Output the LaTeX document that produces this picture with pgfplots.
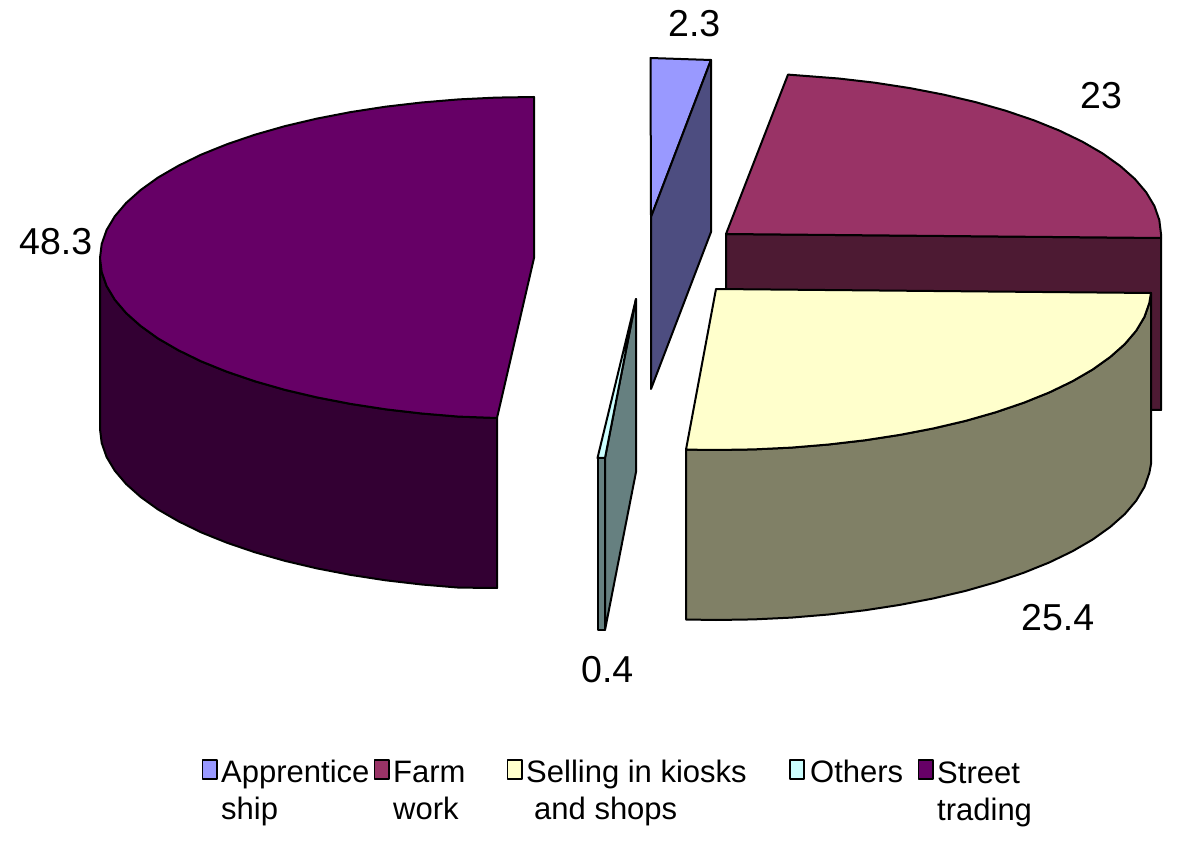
\documentclass[border=0pt]{standalone}
\usepackage{pgfplots}
\pgfplotsset{compat=1.18}
\usepackage{fontspec}
\setmainfont{Liberation Sans}
\definecolor{appT}{HTML}{9999FF}\definecolor{appS}{HTML}{4D4D80}
\definecolor{farmT}{HTML}{993366}\definecolor{farmS}{HTML}{4D1A33}
\definecolor{sellT}{HTML}{FFFFCC}\definecolor{sellS}{HTML}{808066}
\definecolor{othT}{HTML}{CCFFFF}\definecolor{othS}{HTML}{668080}
\definecolor{strT}{HTML}{660066}\definecolor{strS}{HTML}{330033}
\newcommand{\lab}[3]{\node[anchor=base west,inner sep=0pt] at (axis cs:#1,#2) {\fontsize{37.5}{40}\selectfont #3};}
\newcommand{\leg}[3]{\node[anchor=base west,inner sep=0pt] at (axis cs:#1,#2) {\fontsize{31}{34}\selectfont #3};}
\begin{document}
\begin{tikzpicture}
\begin{axis}[hide axis,scale only axis,width=1200pt,height=866pt,
  xmin=0,xmax=1200,ymin=0,ymax=866,y dir=reverse,clip=false,
  every axis plot/.append style={draw=black,line width=2pt,line join=round,mark=none}]
\path (axis cs:0,0) -- (axis cs:1200,866);
% Street trading
\addplot[fill=strS] coordinates {(100,258)(101.7,272)(106.6,286)(114.8,299.7)(126.2,313.1)(140.7,326)(158.1,338.5)(178.5,350.3)(201.5,361.5)(227.1,371.8)(255,381.3)(285.1,389.9)(317,397.4)(350.6,403.9)(385.6,409.3)(421.7,413.5)(458.6,416.6)(497,418)(497,588)(458.6,587.6)(421.7,584.5)(385.6,580.3)(350.6,574.9)(317,568.4)(285.1,560.9)(255,552.3)(227.1,542.8)(201.5,532.5)(178.5,521.3)(158.1,509.5)(140.7,497)(126.2,484.1)(114.8,470.7)(106.6,457)(101.7,443)(100,429)} --cycle;
\addplot[fill=strT] coordinates {(534,97)(496.2,97.6)(458.6,99.4)(421.7,102.5)(385.6,106.7)(350.6,112.1)(317,118.6)(285.1,126.1)(255,134.7)(227.1,144.2)(201.5,154.5)(178.5,165.7)(158.1,177.5)(140.7,190)(126.2,202.9)(114.8,216.3)(106.6,230)(101.7,244)(100,258)(101.7,272)(106.6,286)(114.8,299.7)(126.2,313.1)(140.7,326)(158.1,338.5)(178.5,350.3)(201.5,361.5)(227.1,371.8)(255,381.3)(285.1,389.9)(317,397.4)(350.6,403.9)(385.6,409.3)(421.7,413.5)(458.6,416.6)(497,418)(534,258)} --cycle;
% Farm work
\addplot[fill=farmS] coordinates {(726,234)(1161,238)(1161,410)(726,406)} --cycle;
\addplot[fill=farmT] coordinates {(726,234)(788,74.6)(838.6,78.5)(874.8,82.7)(909.8,88.1)(943.5,94.6)(975.5,102.1)(1005.6,110.7)(1033.6,120.2)(1059.2,130.5)(1082.4,141.7)(1102.7,153.5)(1120.2,166)(1134.8,178.9)(1146.2,192.3)(1154.4,206)(1159.3,220)(1161,234)(1161,238)} --cycle;
% Selling in kiosks and shops
\addplot[fill=sellS] coordinates {(1151,293)(1149.3,303)(1144.4,317)(1136.2,330.7)(1124.8,344.1)(1110.2,357)(1092.7,369.5)(1072.4,381.3)(1049.2,392.5)(1023.6,402.8)(995.6,412.3)(965.5,420.9)(933.5,428.4)(899.8,434.9)(864.8,440.3)(828.6,444.5)(791.5,447.6)(753.8,449.4)(716,450)(686,449.6)(686,619.5)(716,620)(753.8,619.4)(791.5,617.6)(828.6,614.5)(864.8,610.3)(899.8,604.9)(933.5,598.4)(965.5,590.9)(995.6,582.3)(1023.6,572.8)(1049.2,562.5)(1072.4,551.3)(1092.7,539.5)(1110.2,527)(1124.8,514.1)(1136.2,500.7)(1144.4,487)(1149.3,473)(1151,464)} --cycle;
\addplot[fill=sellT] coordinates {(716,289)(1151,293)(1149.3,303)(1144.4,317)(1136.2,330.7)(1124.8,344.1)(1110.2,357)(1092.7,369.5)(1072.4,381.3)(1049.2,392.5)(1023.6,402.8)(995.6,412.3)(965.5,420.9)(933.5,428.4)(899.8,434.9)(864.8,440.3)(828.6,444.5)(791.5,447.6)(753.8,449.4)(716,450)(686,449.6)} --cycle;
% Others
\addplot[fill=othS] coordinates {(636,299)(605,458)(605,630)(636,472)} --cycle;
\addplot[fill=othS] coordinates {(597.5,458)(605,458)(605,630)(597.5,630)} --cycle;
\addplot[fill=othT] coordinates {(636,299)(597.5,458)(605,458)} --cycle;
% Apprenticeship
\addplot[fill=appT] coordinates {(650.5,58)(711,60)(651,217)} --cycle;
\addplot[fill=appS] coordinates {(711,60)(651,217)(651,389)(711,232)} --cycle;
% Legend swatches
\addplot[fill=appT,line width=1.4pt] coordinates {(202.5,760)(217,760)(217,779)(202.5,779)} --cycle;
\addplot[fill=farmT,line width=1.4pt] coordinates {(374.5,760)(389,760)(389,779)(374.5,779)} --cycle;
\addplot[fill=sellT,line width=1.4pt] coordinates {(507.5,760)(522,760)(522,779)(507.5,779)} --cycle;
\addplot[fill=othT,line width=1.4pt] coordinates {(790,760)(804,760)(804,779)(790,779)} --cycle;
\addplot[fill=strT,line width=1.4pt] coordinates {(918.5,760)(933,760)(933,779)(918.5,779)} --cycle;
% Data labels
\lab{19}{255}{48.3}
\lab{668}{37}{2.3}
\lab{1080}{109}{23}
\lab{1021}{630}{25.4}
\lab{581}{682}{0.4}
% Legend text
\leg{221}{782}{Apprentice}
\leg{221}{819}{ship}
\leg{393}{782}{Farm}
\leg{393}{819}{work}
\leg{526}{782}{Selling in kiosks}
\leg{534}{819}{and shops}
\leg{810}{782}{Others}
\leg{937}{783}{Street}
\leg{937}{820}{trading}
\end{axis}
\end{tikzpicture}
\end{document}
